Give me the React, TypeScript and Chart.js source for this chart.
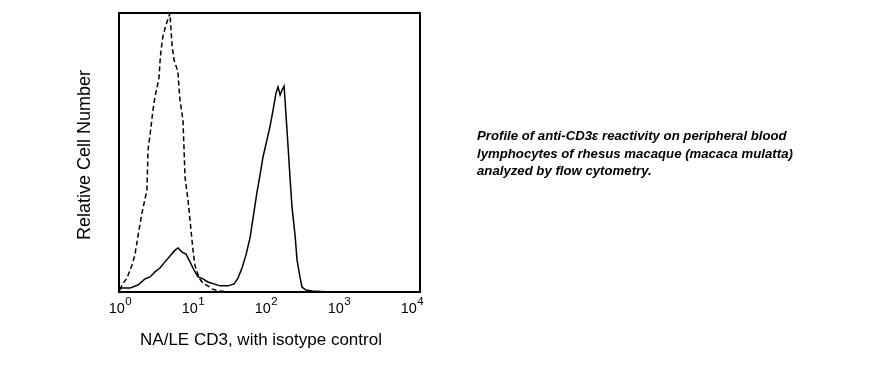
import React, { useEffect, useRef } from "react";
import { Chart, registerables } from "chart.js";

Chart.register(...registerables);

// Fluorescence intensity (log scale) and relative cell counts
const cd3X = [1.0, 1.37, 1.76, 2.2, 2.58, 3.01, 3.53, 4.13, 4.84, 5.67, 6.23, 7.07, 8.02, 9.1, 10.3, 11.7, 13.7, 16.0, 19.4, 23.5, 30.2, 36.5, 41.3, 46.9, 53.2, 60.4, 66.4, 75.3, 82.8, 91.0, 103, 113, 125, 137, 146, 156, 166, 177, 188, 200, 213, 227, 250, 266, 292, 311, 353, 427, 753];
const cd3Y = [1.4, 1.4, 2.5, 4.7, 5.4, 7.2, 8.6, 10.8, 12.9, 15, 15.8, 14.3, 13.6, 10.8, 7.9, 5.4, 4.7, 3.6, 2.9, 2.2, 2.2, 2.9, 5, 8.6, 13.3, 19.4, 26.5, 35.8, 41.9, 48.4, 54.5, 59.1, 65.2, 71.3, 73.5, 70.6, 72.4, 73.8, 63.4, 52.7, 41.2, 30.5, 20.4, 11.5, 5.4, 1.8, 0.7, 0.4, 0];

const isoX = [1.0, 1.065, 1.247, 1.46, 1.6, 1.82, 2.0, 2.34, 2.42, 2.58, 2.83, 3.01, 3.42, 3.53, 3.65, 3.88, 4.27, 4.84, 5.0, 5.16, 5.49, 6.23, 6.43, 6.64, 7.29, 7.53, 7.77, 8.54, 9.1, 10.0, 10.6, 12.1, 13.7, 16.0, 18.2, 22.0, 32.1];
const isoY = [0.7, 2.5, 5, 9.7, 13.3, 22.2, 28.3, 36.6, 50.9, 56.3, 65.2, 69.9, 76.7, 82.4, 86.7, 91.8, 95.7, 100, 93.9, 88.5, 83.2, 78.9, 73.1, 68.8, 61.6, 51.6, 41.2, 33, 25.8, 15, 9.7, 5, 3.2, 2.2, 1.1, 0.4, 0];

const tickValues = [1, 10, 100, 1000, 10000];
const tickExponents = ["0", "1", "2", "3", "4"];

const xTitle = "NA/LE CD3, with isotype control";
const yTitle = "Relative Cell Number";
const note = [
  "Profile of anti-CD3\u03b5 reactivity on peripheral blood",
  "lymphocytes of rhesus macaque (macaca mulatta)",
  "analyzed by flow cytometry.",
];

const FONT = "'Liberation Sans', Arial, sans-serif";

const decorPlugin = {
  id: "decor",
  afterDatasetsDraw(chart: any) {
    const { ctx, chartArea } = chart;
    const xs = chart.scales.x;
    ctx.save();
    // frame
    ctx.strokeStyle = "#000";
    ctx.lineWidth = 2;
    ctx.strokeRect(chartArea.left, chartArea.top, chartArea.right - chartArea.left, chartArea.bottom - chartArea.top);
    // tick labels with superscript
    ctx.fillStyle = "#000";
    ctx.textBaseline = "alphabetic";
    ctx.textAlign = "left";
    tickValues.forEach((v, i) => {
      const px = xs.getPixelForValue(v);
      ctx.font = `14.5px ${FONT}`;
      const bw = ctx.measureText("10").width;
      ctx.font = `11.5px ${FONT}`;
      const sw = ctx.measureText(tickExponents[i]).width;
      const start = px - (bw + sw) / 2;
      ctx.font = `14.5px ${FONT}`;
      ctx.fillText("10", start, 313);
      ctx.font = `11.5px ${FONT}`;
      ctx.fillText(tickExponents[i], start + bw + 0.3, 305);
    });
    // x title
    ctx.font = `17px ${FONT}`;
    ctx.textAlign = "center";
    ctx.fillText(xTitle, 261, 345);
    // y title
    ctx.translate(90, 155);
    ctx.rotate(-Math.PI / 2);
    ctx.font = `18px ${FONT}`;
    ctx.fillText(yTitle, 0, 0);
    ctx.restore();
  },
};

export default function App() {
  const ref = useRef<HTMLCanvasElement | null>(null);
  useEffect(() => {
    document.body.style.margin = "0";
    const chart = new Chart(ref.current as HTMLCanvasElement, {
      type: "line",
      data: {
        datasets: [
          {
            label: "isotype",
            data: isoX.map((x, i) => ({ x, y: isoY[i] })),
            borderColor: "#000",
            borderWidth: 1.5,
            borderDash: [5, 3],
            pointRadius: 0,
            tension: 0,
            fill: false,
          },
          {
            label: "CD3",
            data: cd3X.map((x, i) => ({ x, y: cd3Y[i] })),
            borderColor: "#000",
            borderWidth: 1.5,
            pointRadius: 0,
            tension: 0,
            fill: false,
          },
        ],
      },
      options: {
        animation: false,
        responsive: false,
        layout: { padding: { left: 119, top: 13, right: 464, bottom: 74 } },
        plugins: { legend: { display: false }, tooltip: { enabled: false } },
        scales: {
          x: { type: "logarithmic", min: 0.969, max: 12870, display: false },
          y: { type: "linear", min: 0, max: 100, display: false },
        },
      },
      plugins: [decorPlugin],
    });
    return () => chart.destroy();
  }, []);
  return (
    <div style={{ position: "relative", width: 884, height: 366, background: "#fff" }}>
      <canvas ref={ref} width={884} height={366} />
      <div
        style={{
          position: "absolute",
          left: 477,
          top: 127,
          fontFamily: FONT,
          fontSize: 13.2,
          fontWeight: "bold",
          fontStyle: "italic",
          lineHeight: "17.5px",
          color: "#000",
          whiteSpace: "nowrap",
        }}
      >
        {note.map((l, i) => (
          <div key={i}>{l}</div>
        ))}
      </div>
    </div>
  );
}
